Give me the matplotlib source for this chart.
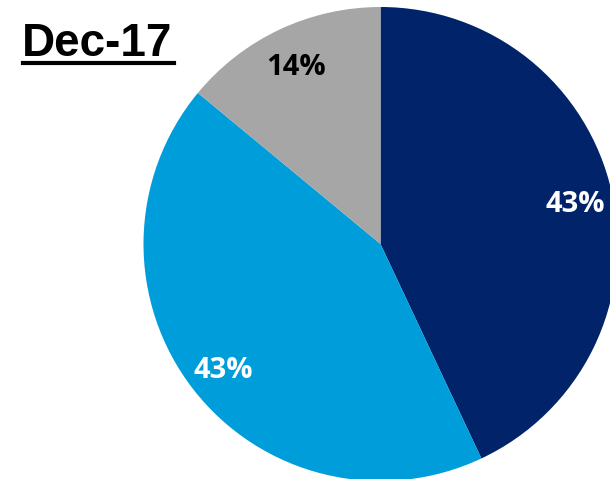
import matplotlib.pyplot as plt
from matplotlib.lines import Line2D

labels = ['Navy', 'Light blue', 'Gray']
values = [43, 43, 14]
colors = ['#002369', '#009DDB', '#A6A6A6']
text_colors = ['white', 'white', 'black']
title = 'Dec-17'

W, H = 610, 479
fig = plt.figure(figsize=(W / 100, H / 100), dpi=100)
ax = fig.add_axes([0, 0, 1, 1])

wedges, texts, autotexts = ax.pie(
    values, colors=colors, startangle=90, counterclock=False,
    center=(380.5, H - 244), radius=237, frame=True,
    autopct='%.0f%%', pctdistance=0.84,
    wedgeprops=dict(linewidth=0),
    textprops=dict(fontfamily='Open Sans', fontweight='bold', fontsize=21))
for t, c in zip(autotexts, text_colors):
    t.set_color(c)
    x, y = t.get_position()
    t.set_position((x, y - 4))
ax.set_xlim(0, W)
ax.set_ylim(0, H)
ax.set_aspect('equal')
ax.axis('off')

fig.text(22 / W, 1 - 56 / H, title, fontfamily='Liberation Sans',
         fontweight='bold', fontsize=33, ha='left', va='baseline')
fig.add_artist(Line2D([23 / W, 174 / W], [1 - 63 / H, 1 - 63 / H],
                      color='black', linewidth=3, transform=fig.transFigure))

fig.savefig('out.png', dpi=100)
